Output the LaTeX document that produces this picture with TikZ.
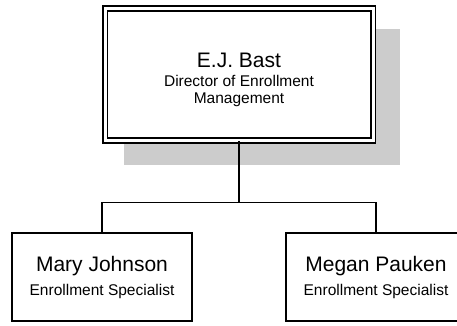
\documentclass[tikz,border=0pt]{standalone}
\usepackage{fontspec}
\setmainfont{Liberation Sans}
\usetikzlibrary{trees,shadows}
\begin{document}
\begin{tikzpicture}[x=1pt,y=1pt,
    staff/.style={rectangle,draw,line width=1.5pt,minimum width=180pt,minimum height=88pt,
        align=center,font=\fontsize{21}{24}\selectfont},
    level distance=202.5pt,
    level 1/.style={sibling distance=274pt},
    edge from parent/.style={draw,line width=1.5pt},
    edge from parent path={(\tikzparentnode.south) -- +(0,-61) -| (\tikzchildnode.north)}]
\useasboundingbox (0,0) rectangle (457,-325);
\node [rectangle,draw,fill=white,line width=1.75pt,double,double distance=3pt,
       minimum width=268pt,minimum height=132pt,align=center,
       font=\fontsize{15.5}{17}\selectfont,
       drop shadow={shadow xshift=22pt,shadow yshift=-22pt,shadow scale=1.03,
                    fill=gray!40,opacity=1,draw=none}] (bast) at (239,-74.5)
        {\rule{0pt}{26pt}{\fontsize{21}{21}\selectfont E.J. Bast}\\[2pt]Director of Enrollment\\Management}
    child {node [staff] (johnson) {Mary Johnson\\{\fontsize{15.5}{17}\selectfont Enrollment Specialist}}}
    child {node [staff] (pauken) {Megan Pauken\\{\fontsize{15.5}{17}\selectfont Enrollment Specialist}}};
\end{tikzpicture}
\end{document}
